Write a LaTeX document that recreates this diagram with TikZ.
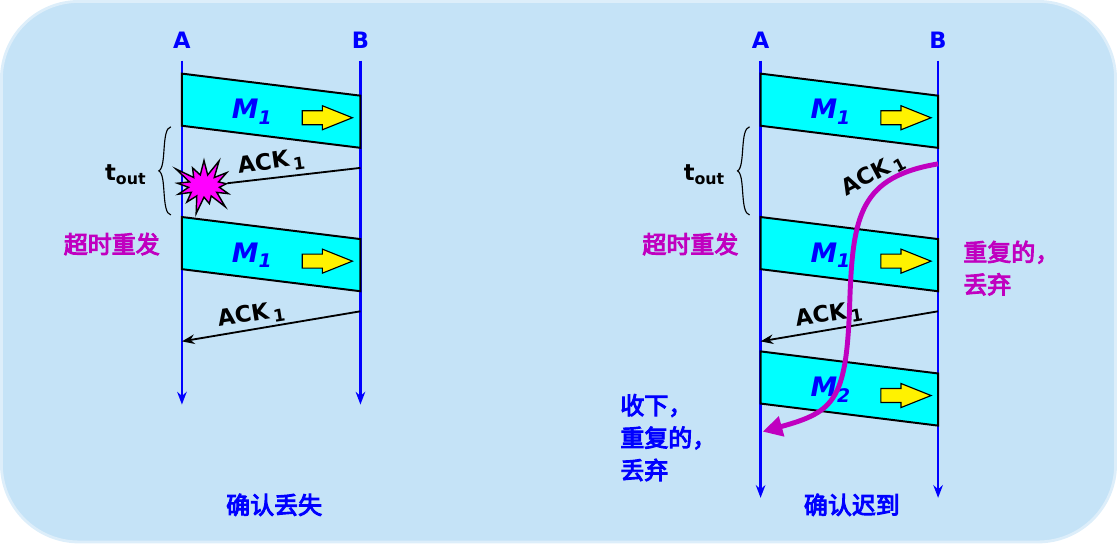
\documentclass[tikz,border=0pt]{standalone}
\usepackage{fontspec}
\setmainfont{DejaVu Sans}
\newfontfamily\cjk{Noto Sans CJK SC}[AutoFakeBold=4]
\usetikzlibrary{shapes.symbols,arrows.meta}
\definecolor{bgblue}{HTML}{C5E3F7}
\definecolor{edgeblue}{HTML}{DDEEFA}
\definecolor{lifeblue}{HTML}{0000FF}
\definecolor{purp}{HTML}{C000C0}
\definecolor{boxcyan}{HTML}{00FFFF}
\definecolor{burst}{HTML}{FF00FF}
\tikzstyle{msgbox} = [draw=black, line width=1.4pt, fill=boxcyan]
\tikzstyle{life} = [draw=lifeblue, line width=1.6pt, -{Stealth[length=9pt]}]
\tikzstyle{ack} = [draw=black, line width=1.3pt]
\tikzstyle{lbl} = [font=\bfseries\fontsize{16}{18}\selectfont]
\tikzstyle{zh} = [font=\cjk\bfseries\fontsize{17}{23}\selectfont, align=left]
\newcommand{\msg}[4]{% x left, x right, y top-left, name
  \filldraw[msgbox] (#1,#3) -- (#2,#3+22) -- (#2,#3+74) -- (#1,#3+52) -- cycle;
  \node[font=\bfseries\itshape\fontsize{19}{20}\selectfont, text=lifeblue] at (#1+70,#3+38) {M\textsubscript{#4}};
  \filldraw[fill=yellow, draw=black, line width=0.8pt] (#1+120,#3+37) -- (#1+140,#3+37) -- (#1+140,#3+32) -- (#1+170,#3+44) -- (#1+140,#3+56) -- (#1+140,#3+51) -- (#1+120,#3+51) -- cycle;}
\newcommand{\ackt}{ACK\,\raisebox{-0.35ex}{\fontsize{12}{12}\selectfont 1}}

\begin{document}
\begin{tikzpicture}[x=0.025cm, y=-0.025cm]
\filldraw[fill=bgblue, draw=edgeblue, line width=2pt, rounded corners=55] (3,3) rectangle (1114,542);
% left: lost ack
\node[lbl, text=lifeblue] (la) at (183,42) {A};
\node[lbl, text=lifeblue] (lb) at (361,42) {B};
\draw[life] (183,62) -- (183,405);
\draw[life] (361,62) -- (361,405);
\msg{183}{361}{75}{1}
\msg{183}{361}{218}{1}
\node[starburst, starburst points=13, starburst point height=14pt, fill=burst, draw=black, line width=1pt, minimum width=50pt, minimum height=44pt, inner sep=0pt] (star) at (205,187) {};
\draw[ack] (361,169) -- (star);
\node[lbl, rotate=8] (lack1) at (272,164) {\ackt};
\coordinate (lend) at (183,342);
\draw[ack, -{Stealth[length=9pt]}] (361,312) -- (lend);
\node[lbl, rotate=9] (lack2) at (252,316) {\ackt};
\draw[line width=0.8pt] (172,128) .. controls (162,130) and (168,168) .. (160,172) .. controls (168,176) and (162,214) .. (172,216);
\node[lbl] (ltout) at (127,176) {t\textsubscript{out}};
\node[zh, text=purp] (lre) at (113,245) {超时重发};
\node[zh, text=lifeblue] (llost) at (275,505) {确认丢失};
% right: late ack
\node[lbl, text=lifeblue] (ra) at (760,42) {A};
\node[lbl, text=lifeblue] (rb) at (937,42) {B};
\draw[life] (760,62) -- (760,498);
\draw[life] (937,62) -- (937,498);
\msg{760}{937}{75}{1}
\msg{760}{937}{218}{1}
\msg{760}{937}{352}{2}
\coordinate (rend) at (760,342);
\draw[ack, -{Stealth[length=9pt]}] (937,312) -- (rend);
\node[lbl, rotate=9] (rack2) at (828,316) {\ackt};
\coordinate (rs) at (937,165);
\coordinate (rt) at (762,432);
\draw[purp, line width=3.5pt, -{Triangle[length=14pt,width=14pt]}] (rs) .. controls (860,178) and (852,215) .. (849,300) .. controls (846,400) and (835,412) .. (rt);
\node[lbl, rotate=28] (rack1) at (872,176) {\ackt};
\draw[line width=0.8pt] (749,128) .. controls (739,130) and (745,168) .. (737,172) .. controls (745,176) and (739,214) .. (749,216);
\node[lbl] (rtout) at (704,176) {t\textsubscript{out}};
\node[zh, text=purp] (rre) at (690,245) {超时重发};
\node[zh, text=purp] (rdup) at (1010,269) {重复的，\\丢弃};
\node[zh, text=lifeblue] (racc) at (668,438) {收下，\\重复的，\\丢弃};
\node[zh, text=lifeblue] (rlate) at (851,505) {确认迟到};
\end{tikzpicture}
\end{document}
